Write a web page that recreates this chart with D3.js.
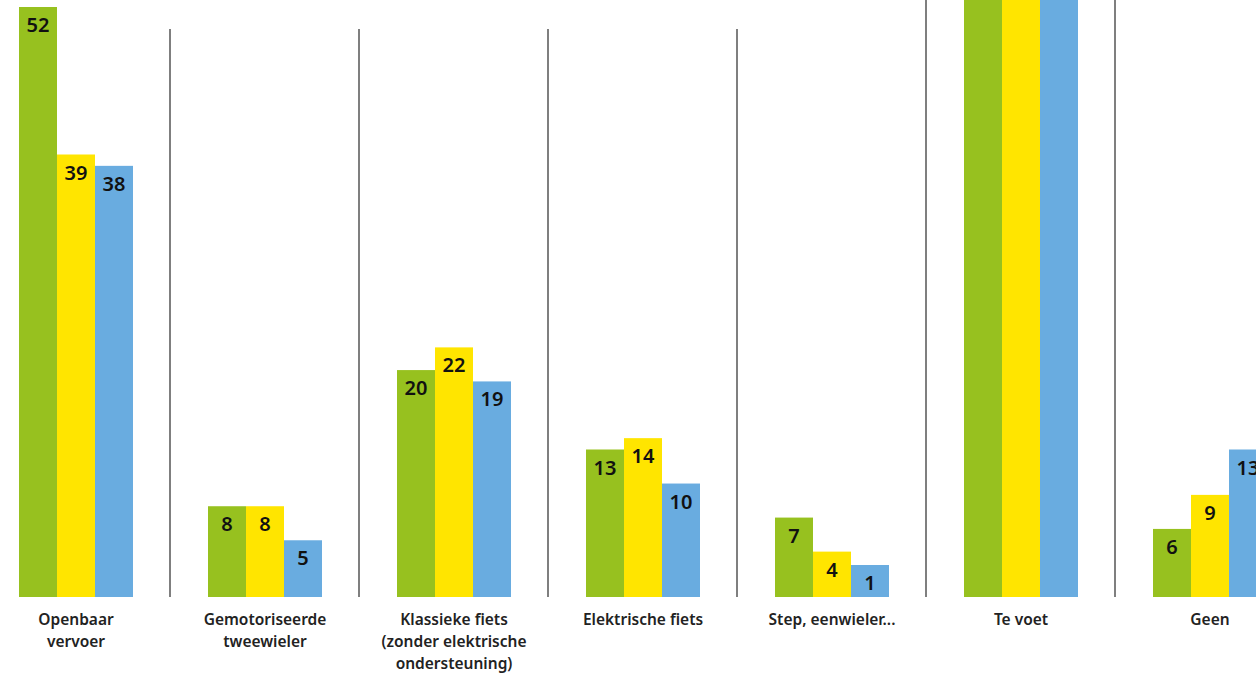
<!DOCTYPE html>
<html lang="nl">
<head>
<meta charset="utf-8">
<title>Vervoermiddelen</title>
<script src="https://d3js.org/d3.v7.min.js"></script>
<style>
  html, body { margin: 0; padding: 0; background: #fff; }
  svg { display: block; }
</style>
</head>
<body>
<script>
// categories and the three series (green, yellow, blue)
var categories = [
  ["Openbaar", "vervoer"],
  ["Gemotoriseerde", "tweewieler"],
  ["Klassieke fiets", "(zonder elektrische", "ondersteuning)"],
  ["Elektrische fiets"],
  ["Step, eenwieler..."],
  ["Te voet"],
  ["Geen"]
];
// "Te voet" runs off the top of the picture, its values are estimated
var seriesA = [52, 8, 20, 13, 7, 70, 6];
var seriesB = [39, 8, 22, 14, 4, 70, 9];
var seriesC = [38, 5, 19, 10, 1, 70, 13];
var colors = ["#97c11f", "#ffe500", "#69ace0"];

var width = 1256, height = 675;
var baseline = 597;
var svg = d3.select("body").append("svg")
  .attr("width", width)
  .attr("height", height);

var x = d3.scaleBand()
  .domain(d3.range(categories.length))
  .range([-18.5, -18.5 + 189 * categories.length])
  .paddingInner(0).paddingOuter(0);

var inner = d3.scaleBand()
  .domain([0, 1, 2])
  .range([(189 - 114) / 2, (189 - 114) / 2 + 114]);

var y = d3.scaleLinear()
  .domain([0, 52])
  .range([baseline, 7]);

// dividers between the groups
svg.selectAll("line.div")
  .data(d3.range(1, categories.length))
  .enter().append("line")
  .attr("class", "div")
  .attr("x1", function(d){ return x(d) - 0.5; })
  .attr("x2", function(d){ return x(d) - 0.5; })
  .attr("y1", function(d){ return d >= 5 ? 0 : 29; })
  .attr("y2", baseline)
  .attr("stroke", "#555")
  .attr("stroke-width", 1.5);

var series = [seriesA, seriesB, seriesC];
var cells = [];
categories.forEach(function(c, i){
  series.forEach(function(s, j){
    cells.push({cat: i, s: j, v: s[i]});
  });
});

function barTop(d){
  // keep room for the label on very small bars
  return Math.min(y(d.v), baseline - 32);
}

var g = svg.selectAll("g.bar")
  .data(cells)
  .enter().append("g")
  .attr("class", "bar")
  .attr("transform", function(d){ return "translate(" + (x(d.cat) + inner(d.s)) + ",0)"; });

g.append("rect")
  .attr("x", 0)
  .attr("y", function(d){ return Math.max(barTop(d), -5); })
  .attr("width", inner.bandwidth())
  .attr("height", function(d){ return baseline - Math.max(barTop(d), -5); })
  .attr("fill", function(d){ return colors[d.s]; });

// labels of bars that run off the top are not visible
g.filter(function(d){ return barTop(d) >= 0; })
  .append("text")
  .attr("x", inner.bandwidth() / 2)
  .attr("y", function(d){ return barTop(d) + 25; })
  .attr("text-anchor", "middle")
  .attr("font-family", "'Noto Sans', sans-serif")
  .attr("font-size", 20)
  .attr("font-weight", 600)
  .attr("fill", "#111")
  .text(function(d){ return d.v; });

// category labels
var labels = svg.selectAll("text.cat")
  .data(categories)
  .enter().append("text")
  .attr("class", "cat")
  .attr("text-anchor", "middle")
  .attr("font-family", "'Noto Sans', sans-serif")
  .attr("font-size", 15.5)
  .attr("font-weight", 600)
  .attr("fill", "#222")
  .attr("transform", function(d, i){ return "translate(" + (x(i) + x.bandwidth() / 2) + ",625)"; });

labels.selectAll("tspan")
  .data(function(d){ return d; })
  .enter().append("tspan")
  .attr("x", 0)
  .attr("dy", function(d, i){ return i === 0 ? 0 : 22; })
  .text(function(d){ return d; });
</script>
</body>
</html>
